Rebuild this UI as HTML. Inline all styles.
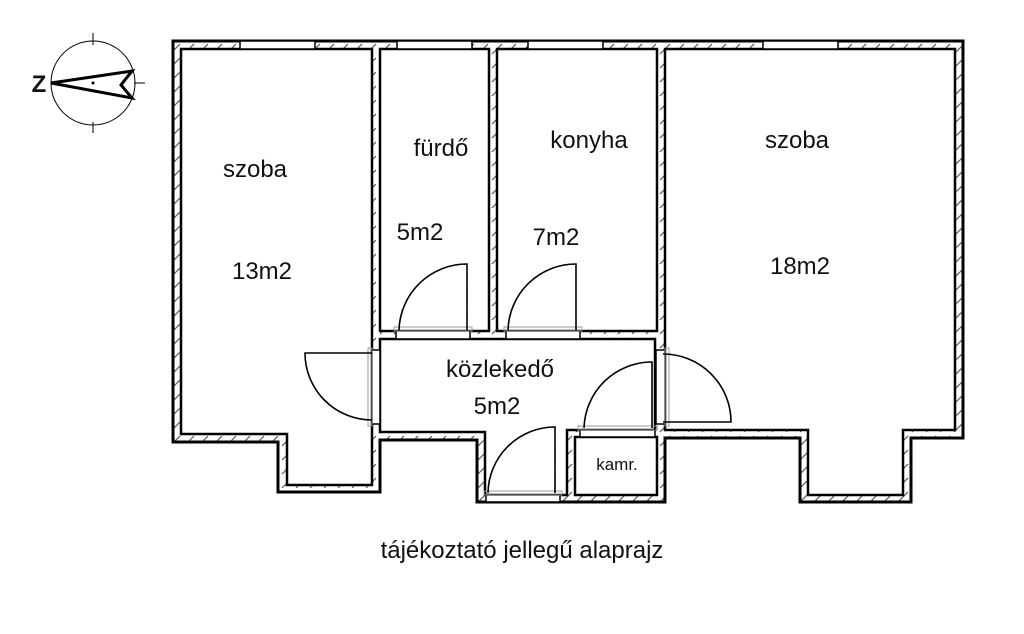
<!DOCTYPE html>
<html><head><meta charset="utf-8"><style>
html,body{margin:0;padding:0;background:#fff;width:1024px;height:634px;overflow:hidden}
svg{display:block}
text{font-family:"Liberation Sans",sans-serif;fill:#111;text-anchor:middle}
</style></head><body>
<svg width="1024" height="634" viewBox="0 0 1024 634">
<defs>
<pattern id="h" width="14" height="14" patternUnits="userSpaceOnUse">
<rect width="14" height="14" fill="#fff"/>
<path d="M2 12 L12 2" stroke="#555" stroke-width="1.2"/>
</pattern>
</defs>
<polygon points="173,41 963,41 963,438 911,438 911,502 800,502 800,438 665,438 665,502 477,502 477,440 380,440 380,492 278,492 278,442 173,442" fill="url(#h)" stroke="#000" stroke-width="3"/>
<g fill="#fff" stroke="#000" stroke-width="2.5">
<polygon points="181,49 372,49 372,485 287,485 287,434 181,434"/>
<rect x="380" y="49" width="109" height="282"/>
<rect x="497" y="49" width="160" height="282"/>
<polygon points="665,49 955,49 955,430 903,430 903,495 808,495 808,430 665,430"/>
<polygon points="380,339 655,339 655,430 567,430 567,495 485,495 485,432 380,432"/>
<rect x="575" y="437" width="82" height="58"/>
</g>
<g fill="#fff" stroke="#000" stroke-width="1.5">
<rect x="240" y="41" width="75" height="8"/>
<rect x="397" y="41" width="75" height="8"/>
<rect x="528" y="41" width="75" height="8"/>
<rect x="763" y="41" width="75" height="8"/>
</g>
<g fill="#fff" stroke="#000" stroke-width="1.5">
<rect x="372" y="350" width="8" height="74"/>
<rect x="656" y="350" width="9" height="74"/>
<rect x="396" y="331" width="74" height="8"/>
<rect x="506" y="331" width="74" height="8"/>
<rect x="486" y="495" width="74" height="7"/>
<rect x="580" y="430" width="75" height="7"/>
</g>
<g fill="none" stroke="#999" stroke-width="1">
<rect x="368" y="348" width="4" height="78"/>
<rect x="665" y="348" width="4" height="78"/>
<rect x="394" y="327" width="78" height="4"/>
<rect x="504" y="327" width="78" height="4"/>
<rect x="484" y="491" width="78" height="4"/>
<rect x="578" y="426" width="79" height="4"/>
</g>
<g fill="none" stroke="#000" stroke-width="1.6">
<path d="M372,353 L305,353 A67,67 0 0 0 372,420"/>
<path d="M663,422 L731,422 A68,68 0 0 0 663,354"/>
<path d="M467,330 L467,264 A68,68 0 0 0 399,330"/>
<path d="M576,330 L576,264 A68,68 0 0 0 508,330"/>
<path d="M555,493 L555,427 A67,67 0 0 0 488,493"/>
<path d="M652,428 L652,362 A68,68 0 0 0 584,428"/>
</g>
<g stroke="#000" fill="none">
<circle cx="93" cy="83" r="42" stroke-width="1"/>
<line x1="93" y1="33" x2="93" y2="45" stroke-width="1"/>
<line x1="93" y1="122" x2="93" y2="133" stroke-width="1"/>
<line x1="134" y1="83" x2="145" y2="83" stroke-width="1"/>
<polygon points="51,83 132,71 121,85 132,98" stroke-width="3" stroke-linejoin="miter"/>
</g>
<circle cx="93" cy="83" r="1.5" fill="#000"/>
<text x="39" y="92" style="font-size:24px;font-weight:bold">Z</text>
<g style="font-size:24px">
<text x="255" y="177">szoba</text>
<text x="262" y="279">13m2</text>
<text x="441" y="156">fürdő</text>
<text x="420" y="240">5m2</text>
<text x="589" y="148">konyha</text>
<text x="556" y="245">7m2</text>
<text x="797" y="148">szoba</text>
<text x="800" y="274">18m2</text>
<text x="500" y="377">közlekedő</text>
<text x="497" y="414">5m2</text>
<text x="522" y="558">tájékoztató jellegű alaprajz</text>
</g>
<text x="617" y="470" style="font-size:17px">kamr.</text>
</svg>
</body></html>
